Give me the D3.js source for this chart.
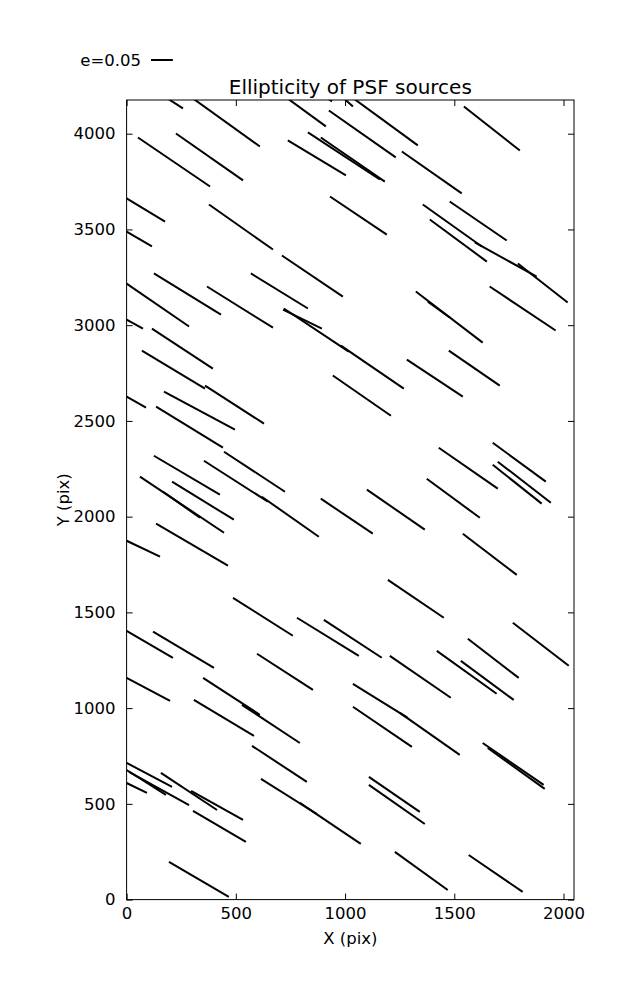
<!DOCTYPE html>
<html>
<head>
<meta charset="utf-8">
<script src="https://cdn.jsdelivr.net/npm/d3@7"></script>
<style>
  html, body { margin: 0; padding: 0; background: #fff; }
  svg { display: block; }
  text { font-family: "DejaVu Sans", sans-serif; fill: #000; }
</style>
</head>
<body>
<svg id="chart" width="637" height="1000"></svg>
<script>
// ---- data (detector pixel coordinates of each PSF ellipticity stick) ----
const xStart = [194,304,743,921,926,1045,995,52,226,738,830,889,0,0,377,931,711,569,125,0,368,1544,1260,1479,1356,1388,1594,1791,1662,1324,1379,0,116,70,359,0,171,135,125,446,716,720,981,944,1283,1475,1676,1429,1676,1699,1374,1100,61,208,167,354,619,889,135,0,487,780,903,0,121,597,0,350,528,308,1036,1251,1036,1539,1196,1768,1562,1205,1420,1530,0,0,11,0,157,295,304,194,574,615,793,1630,1653,1109,1109,1228,1566];
const yStart = [4179,4184,4179,4184,4121,4179,4184,3980,4001,3965,4007,3980,3662,3489,3630,3672,3364,3270,3270,3217,3202,4142,3907,3646,3630,3552,3432,3322,3202,3176,3123,3029,2982,2867,2684,2627,2653,2575,2318,2339,3081,3087,2893,2737,2820,2867,2386,2360,2271,2287,2198,2141,2209,2183,2130,2292,2104,2094,1963,1874,1576,1472,1461,1404,1399,1284,1158,1158,1017,1043,1127,975,1007,1911,1670,1446,1362,1273,1299,1247,714,677,667,609,662,568,463,197,803,630,505,818,792,641,599,249,233];
const xEnd = [258,610,912,940,1232,1333,1036,382,533,1004,1159,1182,176,116,670,1191,990,830,432,286,670,1800,1534,1740,1626,1649,1877,2019,1964,1630,1479,75,395,359,629,89,496,441,427,725,894,1017,1269,1210,1539,1708,1919,1699,1900,1942,1617,1365,446,491,336,647,880,1127,464,153,761,1063,1168,212,400,853,199,610,793,583,1287,1525,1306,1786,1452,2024,1795,1484,1694,1772,208,180,286,93,414,533,546,468,825,871,1072,1909,1914,1342,1365,1470,1813];
const yEnd = [4132,3933,4038,4169,3876,3939,4142,3724,3756,3782,3761,3750,3541,3411,3395,3473,3149,3087,3055,2993,2987,3912,3688,3442,3411,3332,3254,3118,2972,2909,3040,2982,2773,2669,2486,2569,2454,2360,2115,2130,2982,2862,2669,2527,2627,2684,2183,2146,2068,2073,1994,1932,1916,1984,1994,2078,1895,1911,1744,1791,1378,1273,1263,1263,1210,1095,1038,965,818,855,949,756,798,1696,1472,1221,1158,1054,1075,1043,589,547,494,557,468,416,301,14,615,447,291,599,578,458,395,50,40];

const xTicks = [0, 500, 1000, 1500, 2000];
const yTicks = [0, 500, 1000, 1500, 2000, 2500, 3000, 3500, 4000];
const xMax = 2048, yMax = 4176;
const keyE = 0.05;            // quiver key ellipticity
const keyScale = 2000;        // detector pixels per unit ellipticity
const titleText = "Ellipticity of PSF sources";
const xLabel = "X (pix)", yLabel = "Y (pix)";

// ---- layout ----
const svg = d3.select("#chart");
const L = 126.6, R = 574, T = 100, B = 899.6;
const x = d3.scaleLinear().domain([0, xMax]).range([L, R]);
const y = d3.scaleLinear().domain([0, yMax]).range([B, T]);

svg.append("defs").append("clipPath").attr("id", "clip")
  .append("rect").attr("x", L).attr("y", T).attr("width", R - L).attr("height", B - T);

const segs = d3.range(xStart.length).map(i => ({x1: xStart[i], y1: yStart[i], x2: xEnd[i], y2: yEnd[i]}));

svg.append("g").attr("clip-path", "url(#clip)")
  .selectAll("line").data(segs).join("line")
  .attr("x1", d => x(d.x1)).attr("y1", d => y(d.y1))
  .attr("x2", d => x(d.x2)).attr("y2", d => y(d.y2))
  .attr("stroke", "#000").attr("stroke-width", 2).attr("stroke-linecap", "butt");

// axes (ticks pointing inward, on all four sides)
const tickLen = 6;
const fs = 16.5;
const axB = svg.append("g").attr("transform", `translate(0,${B})`)
  .call(d3.axisBottom(x).tickValues(xTicks).tickSize(-tickLen).tickPadding(8).tickFormat(d3.format("d")));
const axT = svg.append("g").attr("transform", `translate(0,${T})`)
  .call(d3.axisTop(x).tickValues(xTicks).tickSize(-tickLen).tickFormat(""));
const axL = svg.append("g").attr("transform", `translate(${L},0)`)
  .call(d3.axisLeft(y).tickValues(yTicks).tickSize(-tickLen).tickPadding(11).tickFormat(d3.format("d")));
const axR = svg.append("g").attr("transform", `translate(${R},0)`)
  .call(d3.axisRight(y).tickValues(yTicks).tickSize(-tickLen).tickFormat(""));
[axB, axT, axL, axR].forEach(g => {
  g.select(".domain").remove();
  g.selectAll(".tick line").attr("stroke", "#000").attr("stroke-width", 1);
  g.selectAll("text").style("font-family", "DejaVu Sans, sans-serif").style("font-size", fs + "px").attr("fill", "#000");
});

svg.append("rect").attr("x", L).attr("y", T).attr("width", R - L).attr("height", B - T)
  .attr("fill", "none").attr("stroke", "#000").attr("stroke-width", 1);

// labels
svg.append("text").attr("x", (L + R) / 2).attr("y", 944).attr("text-anchor", "middle")
  .style("font-size", fs + "px").text(xLabel);
svg.append("text").attr("transform", `translate(69,${(T + B) / 2}) rotate(-90)`).attr("text-anchor", "middle")
  .style("font-size", fs + "px").text(yLabel);
svg.append("text").attr("x", (L + R) / 2).attr("y", 94).attr("text-anchor", "middle")
  .style("font-size", "20px").text(titleText);

// quiver key
const keyLen = x(keyE * keyScale) - x(0);
const keyX = 151, keyY = 60;
svg.append("line").attr("x1", keyX).attr("x2", keyX + keyLen).attr("y1", keyY).attr("y2", keyY)
  .attr("stroke", "#000").attr("stroke-width", 2);
svg.append("text").attr("x", keyX - 10).attr("y", keyY + 6).attr("text-anchor", "end")
  .style("font-size", fs + "px").text(`e=${keyE}`);
</script>
</body>
</html>
